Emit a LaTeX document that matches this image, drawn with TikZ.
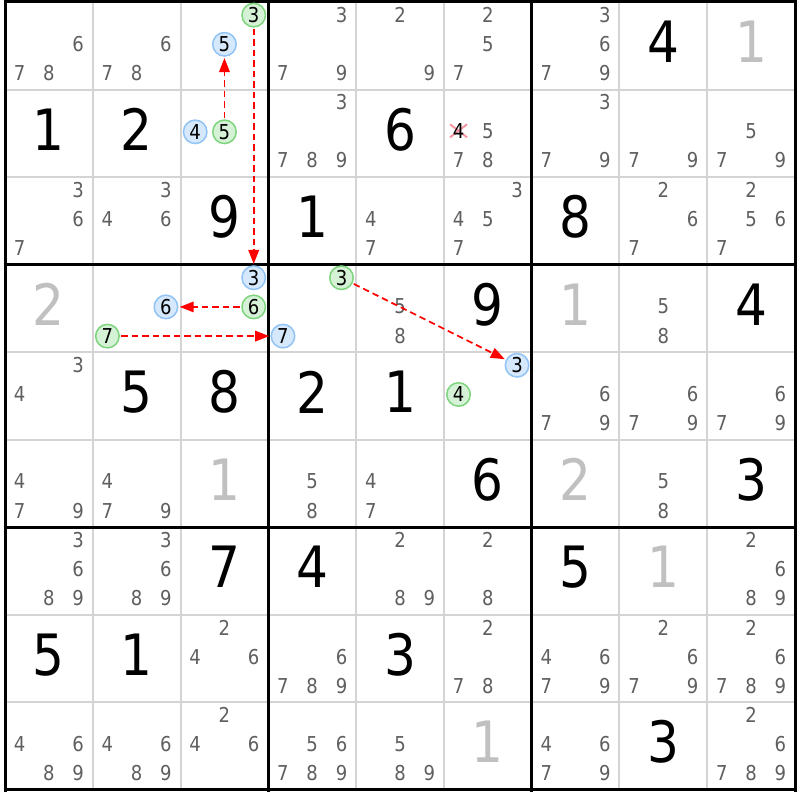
\documentclass[tikz,border=0pt]{standalone}
\usepackage{fontspec}
\setmainfont{DejaVu Sans}[FakeStretch=0.88]
\usetikzlibrary{arrows.meta}
\definecolor{pencil}{RGB}{95,95,95}
\definecolor{lightgiven}{RGB}{192,192,192}
\definecolor{thingrid}{RGB}{212,212,212}
\definecolor{gfill}{RGB}{214,242,214}
\definecolor{gline}{RGB}{125,212,125}
\definecolor{bfill}{RGB}{214,232,252}
\definecolor{bline}{RGB}{145,195,245}
\definecolor{xpink}{RGB}{245,150,165}
\definecolor{linkred}{RGB}{255,0,0}
\newcommand\pmarks[3]{\foreach \d in {#3}{\node[pm] (p-#1-#2-\d) at ({5+87.78*#2+29.26*(mod(\d-1,3)+0.5)},{2+87.55*#1+29.18*(floor((\d-1)/3)+0.5)-2}) {\d};}}
\newcommand\bigdig[3]{\node[bigd] (g-#1-#2) at ({5+87.78*#2+43.89},{2+87.55*#1+43.78-4}) {#3};}
\newcommand\graydig[3]{\node[bigd,text=lightgiven] (g-#1-#2) at ({5+87.78*#2+43.89},{2+87.55*#1+43.78-4}) {#3};}
\newcommand\cand[5]{\node[#5] (#1) at ({5+87.78*#3+29.26*(mod(#4-1,3)+0.5)},{2+87.55*#2+29.18*(floor((#4-1)/3)+0.5)-1.5}) {#4};}
\begin{document}
\begin{tikzpicture}[x=1pt,y=-1pt,
  pm/.style={text=pencil,font=\fontsize{20.5pt}{24pt}\selectfont,inner sep=0pt},
  bigd/.style={text=black,font=\fontsize{57pt}{60pt}\selectfont,inner sep=0pt},
  cbase/.style={circle,minimum size=23.5pt,inner sep=0pt,outer sep=2pt,line width=1.5pt,text=black,font=\fontsize{20.5pt}{24pt}\selectfont},
  gc/.style={cbase,draw=gline,fill=gfill},
  bc/.style={cbase,draw=bline,fill=bfill},
  link/.style={draw=linkred,line width=1.7pt,dash pattern=on 6.5pt off 4pt,-{Triangle[length=14pt,width=10.5pt]}}]
\useasboundingbox (0,0) rectangle (800,800);
\fill[white] (0,0) rectangle (800,800);
% thin grid
\foreach \i in {1,2,4,5,7,8}{
  \draw[thingrid,line width=2pt] ({5+87.78*\i},2) -- ({5+87.78*\i},790);
  \draw[thingrid,line width=2pt] (5,{2+87.55*\i}) -- (795,{2+87.55*\i});
}
% thick grid
\foreach \i in {0,3,6,9}{
  \draw[black,line width=3pt] ({5+87.78*\i},0.5) -- ({5+87.78*\i},791.5);
  \draw[black,line width=3pt] (3.5,{2+87.55*\i}) -- (796.5,{2+87.55*\i});
}
% row 0
\pmarks{0}{0}{6,7,8}
\pmarks{0}{1}{6,7,8}
\cand{g03}{0}{2}{3}{gc}
\cand{b05}{0}{2}{5}{bc}
\pmarks{0}{3}{3,7,9}
\pmarks{0}{4}{2,9}
\pmarks{0}{5}{2,5,7}
\pmarks{0}{6}{3,6,7,9}
\bigdig{0}{7}{4}
\graydig{0}{8}{1}
% row 1
\bigdig{1}{0}{1}
\bigdig{1}{1}{2}
\cand{b14}{1}{2}{4}{bc}
\cand{g15}{1}{2}{5}{gc}
\pmarks{1}{3}{3,7,8,9}
\bigdig{1}{4}{6}
\coordinate (xc) at ({5+87.78*5+14.63},{2+87.55*1+43.77-2.5});
\draw[xpink,line width=2pt] (xc) ++(-8.5,-6.5) -- ++(17,13);
\draw[xpink,line width=2pt] (xc) ++(-8.5,6.5) -- ++(17,-13);
\node[pm,text=black] (x4) at ({5+87.78*5+14.63},{2+87.55*1+43.77-2}) {4};
\pmarks{1}{5}{5,7,8}
\pmarks{1}{6}{3,7,9}
\pmarks{1}{7}{7,9}
\pmarks{1}{8}{5,7,9}
% row 2
\pmarks{2}{0}{3,6,7}
\pmarks{2}{1}{3,4,6}
\bigdig{2}{2}{9}
\bigdig{2}{3}{1}
\pmarks{2}{4}{4,7}
\pmarks{2}{5}{3,4,5,7}
\bigdig{2}{6}{8}
\pmarks{2}{7}{2,6,7}
\pmarks{2}{8}{2,5,6,7}
% row 3
\graydig{3}{0}{2}
\cand{b36}{3}{1}{6}{bc}
\cand{g37}{3}{1}{7}{gc}
\cand{b33}{3}{2}{3}{bc}
\cand{g36}{3}{2}{6}{gc}
\cand{b37}{3}{3}{7}{bc}
\cand{g33}{3}{3}{3}{gc}
\pmarks{3}{4}{5,8}
\bigdig{3}{5}{9}
\graydig{3}{6}{1}
\pmarks{3}{7}{5,8}
\bigdig{3}{8}{4}
% row 4
\pmarks{4}{0}{3,4}
\bigdig{4}{1}{5}
\bigdig{4}{2}{8}
\bigdig{4}{3}{2}
\bigdig{4}{4}{1}
\cand{g44}{4}{5}{4}{gc}
\cand{b43}{4}{5}{3}{bc}
\pmarks{4}{6}{6,7,9}
\pmarks{4}{7}{6,7,9}
\pmarks{4}{8}{6,7,9}
% row 5
\pmarks{5}{0}{4,7,9}
\pmarks{5}{1}{4,7,9}
\graydig{5}{2}{1}
\pmarks{5}{3}{5,8}
\pmarks{5}{4}{4,7}
\bigdig{5}{5}{6}
\graydig{5}{6}{2}
\pmarks{5}{7}{5,8}
\bigdig{5}{8}{3}
% row 6
\pmarks{6}{0}{3,6,8,9}
\pmarks{6}{1}{3,6,8,9}
\bigdig{6}{2}{7}
\bigdig{6}{3}{4}
\pmarks{6}{4}{2,8,9}
\pmarks{6}{5}{2,8}
\bigdig{6}{6}{5}
\graydig{6}{7}{1}
\pmarks{6}{8}{2,6,8,9}
% row 7
\bigdig{7}{0}{5}
\bigdig{7}{1}{1}
\pmarks{7}{2}{2,4,6}
\pmarks{7}{3}{6,7,8,9}
\bigdig{7}{4}{3}
\pmarks{7}{5}{2,7,8}
\pmarks{7}{6}{4,6,7,9}
\pmarks{7}{7}{2,6,7,9}
\pmarks{7}{8}{2,6,7,8,9}
% row 8
\pmarks{8}{0}{4,6,8,9}
\pmarks{8}{1}{4,6,8,9}
\pmarks{8}{2}{2,4,6}
\pmarks{8}{3}{5,6,7,8,9}
\pmarks{8}{4}{5,8,9}
\graydig{8}{5}{1}
\pmarks{8}{6}{4,6,7,9}
\bigdig{8}{7}{3}
\pmarks{8}{8}{2,6,7,8,9}
% links
\draw[link] (g15) -- (b05);
\draw[link] (g03) -- (b33);
\draw[link] (g36) -- (b36);
\draw[link] (g37) -- (b37);
\draw[link] (g33) -- (b43);
\end{tikzpicture}
\end{document}
